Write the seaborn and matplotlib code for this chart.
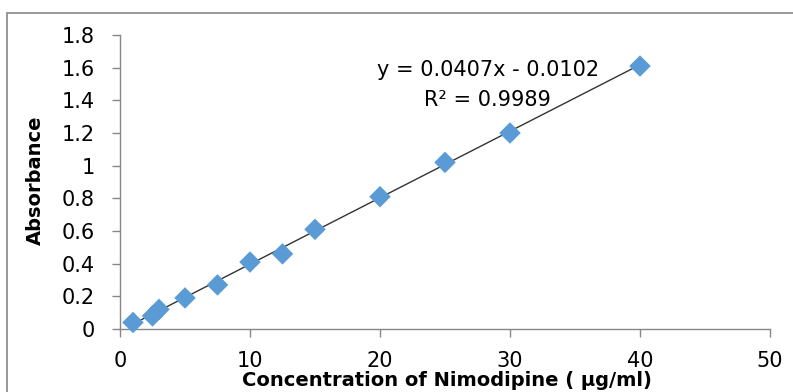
import matplotlib
matplotlib.use("Agg")
import matplotlib.pyplot as plt
import seaborn as sns
import numpy as np
import pandas as pd
from matplotlib.patches import Rectangle

conc = [1, 2.5, 3, 5, 7.5, 10, 12.5, 15, 20, 25, 30, 40]
absorbance = [0.04, 0.08, 0.12, 0.19, 0.27, 0.41, 0.46, 0.61, 0.81, 1.02, 1.20, 1.61]
slope = 0.0407
intercept = -0.0102
x_ticks = [0, 10, 20, 30, 40, 50]
y_ticks = [0, 0.2, 0.4, 0.6, 0.8, 1, 1.2, 1.4, 1.6, 1.8]
y_tick_labels = ["0", "0.2", "0.4", "0.6", "0.8", "1", "1.2", "1.4", "1.6", "1.8"]

sns.set_style("white")
plt.rcParams['font.family'] = ['DejaVu Sans']
plt.rcParams['text.color'] = 'black'

df = pd.DataFrame({"conc": conc, "abs": absorbance})

fig = plt.figure(figsize=(7.93, 3.92), dpi=100)
ax = fig.add_axes([120/793, 1-329/392, 650/793, 294/392])

# fitted trendline
xs = np.array([min(conc), max(conc)])
ax.plot(xs, slope*xs + intercept, color="#333333", lw=1.0, zorder=2)

sns.scatterplot(data=df, x="conc", y="abs", marker="D", s=120, color="#5B9BD5",
                edgecolor="none", ax=ax, zorder=3, clip_on=False)

ax.set_xlim(0, 50)
ax.set_ylim(0, 1.8)
ax.set_xticks(x_ticks)
ax.set_yticks(y_ticks)
ax.set_yticklabels(y_tick_labels)
ax.tick_params(axis="both", labelsize=15, color="#868686", labelcolor="black",
               length=6, width=1, direction="out", bottom=True, left=True)
ax.tick_params(axis="y", pad=12)
ax.tick_params(axis="x", pad=10)
for side in ["top", "right"]:
    ax.spines[side].set_visible(False)
for side in ["left", "bottom"]:
    ax.spines[side].set_color("#868686")
    ax.spines[side].set_linewidth(1)

ax.set_xlabel("Concentration of Nimodipine ( μg/ml)", fontsize=14, fontweight="bold", color="black")
ax.set_ylabel("Absorbance", fontsize=14, fontweight="bold", color="black")
ax.xaxis.set_label_coords(0.503, -0.142)
ax.yaxis.set_label_coords(-0.115, 0.507)

ax.text(28.3, 1.586, "y = 0.0407x - 0.0102", ha="center", va="center", fontsize=15, color="black")
ax.text(28.3, 1.40, "R² = 0.9989", ha="center", va="center", fontsize=15, color="black")

fig.patches.append(Rectangle((7/793, -0.1), 1.2, 1-13/392+0.1, transform=fig.transFigure,
                             fill=False, edgecolor="#868686", lw=1.2, zorder=0))

fig.savefig("out.png", dpi=100)
